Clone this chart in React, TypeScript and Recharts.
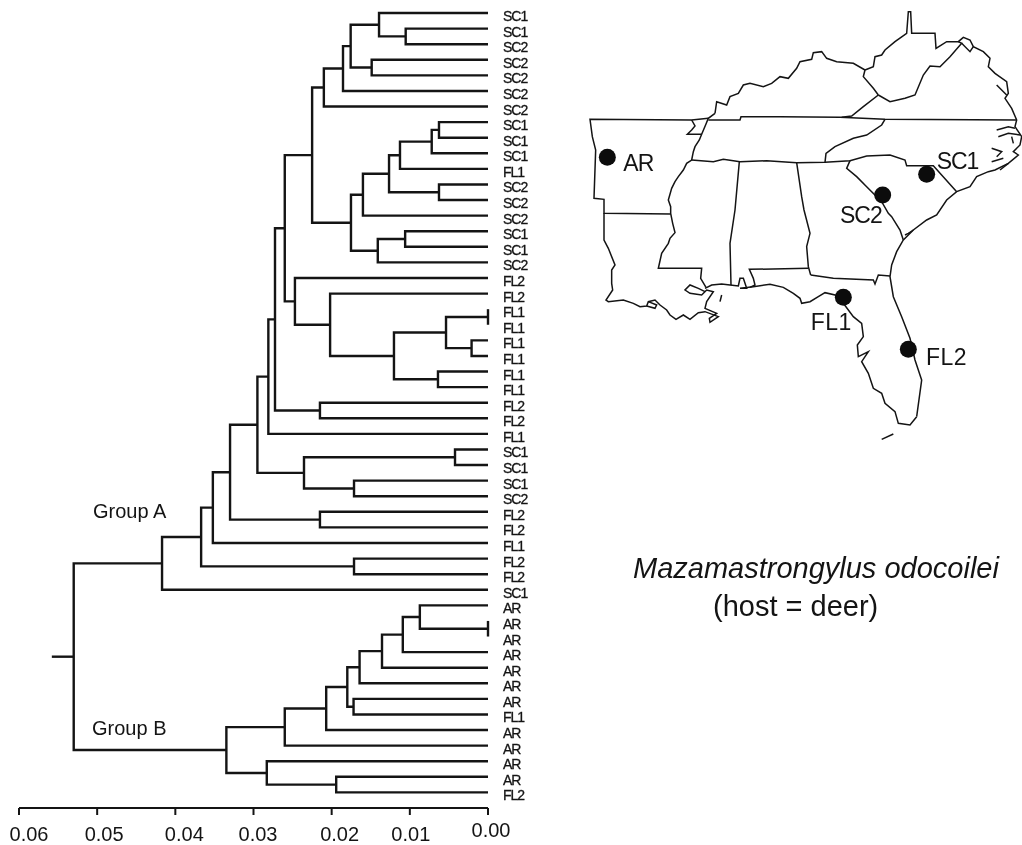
import React from 'react';
import { LineChart, Line, XAxis, YAxis } from 'recharts';

type Clade = string | [number, Clade, Clade];
type Pt = [number, number];

// distance values read from the tree, one clade at a time
const cladeSC: Clade = [0.0225,
  [0.021, [0.01855, [0.01757, [0.01394, 'SC1', [0.01053, 'SC1', 'SC2']], [0.01488, 'SC2', 'SC2']], 'SC2'], 'SC2'],
  [0.01753,
    [0.016, [0.01266, [0.01126, [0.0072, [0.00627, 'SC1', 'SC1'], 'SC1'], 'FL1'], [0.00627, 'SC2', 'SC2']], 'SC2'],
    [0.0141, [0.0106, 'SC1', 'SC1'], 'SC2']]];
const cladeFL: Clade = [0.0247, 'FL2', [0.0202, 'FL2',
  [0.01203, [0.00537, [0, 'FL1', 'FL1'], [0.0021, 'FL1', 'FL1']], [0.0064, 'FL1', 'FL1']]]];
const cladeMixed: Clade = [0.0295,
  [0.0281, [0.02725, [0.026, cladeSC, cladeFL], [0.0215, 'FL2', 'FL2']], 'FL1'],
  [0.02354, [0.00422, 'SC1', 'SC1'], [0.01714, 'SC1', 'SC2']]];
const groupA: Clade = [0.0417,
  [0.0367, [0.0352, [0.033, cladeMixed, [0.0215, 'FL2', 'FL2']], 'FL1'], [0.01714, 'FL2', 'FL2']],
  'SC1'];
const groupB: Clade = [0.03347,
  [0.026, [0.0207, [0.018, [0.01643, [0.01356, [0.0109, [0.00872, 'AR', [0, 'AR', 'AR']], 'AR'], 'AR'], 'AR'], [0.0172, 'AR', 'FL1']], 'AR'], 'AR'],
  [0.0283, 'AR', [0.01942, 'AR', 'FL2']]];
const rootDistance = 0.053;
const stemDistance = 0.0558;

const distanceTicks = [0, 0.01, 0.02, 0.03, 0.04, 0.05, 0.06];
const tickLabelShiftX = [3, 1, 8, 4.5, 9, 7, 10];
const tickLabelShiftY = [-4, 0, 0, 0, 0, 0, 0];

// map outlines, in units of a 1326 x 1350 sheet
const arkansas: Pt[] = [[385, 355], [335, 360], [30, 358], [37, 410], [47, 450], [42, 595], [72, 598], [72, 640], [272, 642]];
const bootheel: Pt[] = [[335, 360], [345, 378], [335, 390], [322, 403], [365, 403]];
const river: Pt[] = [[405, 340], [385, 355], [378, 372], [365, 403], [358, 420], [345, 440], [340, 455], [335, 480], [320, 490], [310, 510], [295, 530], [285, 545], [275, 565], [265, 600], [272, 620], [272, 640], [278, 670], [285, 698], [270, 715], [265, 730], [245, 760], [235, 805], [365, 805], [362, 835], [378, 862]];
const louisiana: Pt[] = [[72, 640], [72, 720], [85, 745], [105, 795], [95, 810], [95, 850], [98, 870], [78, 900], [85, 905], [130, 900], [160, 910], [180, 920], [200, 918], [205, 905], [225, 900], [240, 915], [260, 930], [270, 945], [288, 958], [310, 945], [330, 958], [355, 938], [375, 935], [415, 950], [390, 967], [388, 955], [410, 940], [375, 925], [380, 905], [400, 875], [380, 870], [365, 885], [330, 880], [315, 870], [330, 855], [355, 865], [375, 875]];
const calcasieu: Pt[] = [[205, 905], [230, 915], [225, 925], [200, 918]];
const gulfCoast: Pt[] = [[375, 865], [395, 855], [425, 852], [450, 855], [475, 858], [480, 835], [490, 835], [500, 865], [480, 865], [520, 860], [570, 853], [610, 862], [640, 880], [660, 895], [665, 910], [690, 905], [715, 890], [735, 878], [765, 885], [790, 910], [820, 950], [845, 970], [850, 1010], [832, 1035], [835, 1070], [865, 1055], [845, 1085], [865, 1120], [880, 1165], [905, 1180], [915, 1210], [945, 1235], [955, 1270], [990, 1275], [1010, 1250]];
const atlanticCoast: Pt[] = [[1010, 1250], [1025, 1140], [1005, 1080], [990, 1015], [965, 950], [940, 890], [930, 830], [935, 795], [950, 755], [970, 720], [1000, 690], [1040, 660], [1070, 645], [1100, 600], [1130, 575], [1170, 560], [1190, 530], [1225, 515], [1245, 510], [1285, 490], [1315, 465], [1300, 455], [1320, 435], [1325, 410], [1305, 380], [1310, 360], [1295, 325], [1275, 295], [1285, 280], [1280, 245], [1245, 220], [1225, 200], [1230, 175], [1210, 155], [1180, 140], [1170, 120], [1150, 112], [1135, 125], [1100, 125], [1068, 145], [1065, 100], [995, 100], [992, 35], [985, 35], [980, 100], [945, 125], [915, 150], [905, 165], [885, 170], [880, 200], [855, 210]];
const kentuckyNorth: Pt[] = [[855, 210], [820, 190], [770, 185], [740, 175], [725, 155], [700, 158], [695, 178], [660, 185], [650, 205], [625, 235], [600, 230], [575, 250], [550, 260], [510, 250], [490, 255], [475, 280], [450, 290], [440, 315], [410, 305], [405, 340]];
const tennesseeNorth: Pt[] = [[385, 360], [480, 360], [483, 350], [600, 350], [780, 352], [915, 358], [1310, 360]];
const kentuckyEast: Pt[] = [[785, 352], [815, 348], [850, 320], [895, 285]];
const westVirginiaWest: Pt[] = [[855, 210], [850, 230], [880, 265], [895, 285]];
const westVirginiaSouth: Pt[] = [[895, 285], [930, 305], [975, 295], [1005, 285], [1030, 225], [1050, 198], [1080, 200], [1110, 170], [1145, 130], [1135, 125]];
const maryland: Pt[] = [[1145, 130], [1170, 155], [1180, 140]];
const tennesseeSouth: Pt[] = [[335, 480], [400, 485], [430, 478], [480, 485], [560, 482], [650, 488], [735, 487], [810, 482], [860, 468], [930, 465], [975, 480], [980, 497], [1060, 497], [1130, 575]];
const tennesseeEast: Pt[] = [[735, 487], [738, 460], [765, 440], [820, 415], [860, 405], [905, 375], [915, 358]];
const mississippiEast: Pt[] = [[478, 485], [465, 630], [450, 730], [453, 855]];
const alabamaEast: Pt[] = [[650, 488], [665, 590], [672, 630], [690, 700], [680, 740], [685, 800], [692, 825]];
const alabamaSouth: Pt[] = [[510, 862], [525, 855], [520, 835], [508, 808], [685, 805]];
const georgiaSouth: Pt[] = [[692, 825], [760, 835], [880, 840], [885, 852], [895, 825], [930, 828]];
const georgiaEast: Pt[] = [[810, 482], [800, 505], [830, 530], [860, 560], [905, 605], [925, 640], [935, 650], [960, 690], [970, 720]];
const savannah: Pt[] = [[1000, 690], [985, 700], [975, 705]];
const albemarle: Pt[] = [[1250, 390], [1285, 380], [1305, 385]];
const pamlicoNorth: Pt[] = [[1255, 410], [1285, 400], [1320, 405]];
const pamlicoInlet: Pt[] = [[1300, 430], [1295, 410]];
const coreSound: Pt[] = [[1235, 445], [1265, 455], [1250, 470]];
const neuse: Pt[] = [[1235, 485], [1270, 475]];
const bogue: Pt[] = [[1260, 510], [1285, 490]];
const chesapeake: Pt[] = [[1250, 255], [1280, 285]];
const keys: Pt[] = [[905, 1318], [940, 1302]];
const chandeleur: Pt[] = [[425, 885], [420, 905]];

const mapLines = [arkansas, bootheel, river, louisiana, calcasieu, gulfCoast, atlanticCoast, kentuckyNorth, tennesseeNorth, kentuckyEast, westVirginiaWest, westVirginiaSouth, maryland, tennesseeSouth, tennesseeEast, mississippiEast, alabamaEast, alabamaSouth, georgiaSouth, georgiaEast, savannah, albemarle, pamlicoNorth, pamlicoInlet, coreSound, neuse, bogue, chesapeake, keys, chandeleur];

const sites = [
  { x: 82, y: 472 },
  { x: 1040, y: 523 },
  { x: 908, y: 585 },
  { x: 790, y: 892 },
  { x: 985, y: 1048 },
];
const siteNames = [
  { x: 130, y: 512, name: 'AR' },
  { x: 1070, y: 508, name: 'SC1' },
  { x: 780, y: 668, name: 'SC2' },
  { x: 692, y: 990, name: 'FL1' },
  { x: 1038, y: 1095, name: 'FL2' },
];

// walk the tree: leaves get the next row, a node sits halfway between its children
const leafLabels: string[] = [];
const brackets: { x: number; y: number }[][] = [];
const walk = (c: Clade): { x: number; y: number } => {
  if (typeof c === 'string') {
    leafLabels.push(c);
    return { x: 0, y: leafLabels.length - 1 };
  }
  const [h, a, b] = c;
  const top = walk(a);
  const bottom = walk(b);
  brackets.push([top, { x: h, y: top.y }, { x: h, y: bottom.y }, bottom]);
  return { x: h, y: (top.y + bottom.y) / 2 };
};
const rootTop = walk(groupA);
const rootBottom = walk(groupB);
const rootY = (rootTop.y + rootBottom.y) / 2;
brackets.push([rootTop, { x: rootDistance, y: rootTop.y }, { x: rootDistance, y: rootBottom.y }, rootBottom]);
brackets.push([{ x: rootDistance, y: rootY }, { x: stemDistance, y: rootY }]);
const leafRows = leafLabels.map((_, i) => i);

const FONT = '"Liberation Sans", Arial, sans-serif';
const INK = '#141414';

const LeafTick = ({ x, y, payload }: any) => (
  <text x={x + 7} y={y + 8} fontFamily={FONT} fontSize={14} letterSpacing={-1} fill={INK} stroke={INK} strokeWidth={0.3}>
    {leafLabels[payload.value]}
  </text>
);

const DistanceTick = ({ x, y, payload, index }: any) => (
  <text x={x + tickLabelShiftX[index]} y={y + 24 + tickLabelShiftY[index]} textAnchor="middle" fontFamily={FONT} fontSize={20} fill={INK}>
    {payload.value.toFixed(2)}
  </text>
);

const SiteName = ({ x, y, index }: any) => (
  <text x={x} y={y} fontFamily={FONT} fontSize={23} letterSpacing={siteNames[index].name[0] === 'F' ? 0.5 : -1} fill={INK}>
    {siteNames[index].name}
  </text>
);

const noteStyle: React.CSSProperties = { position: 'absolute', fontFamily: FONT, color: INK, whiteSpace: 'nowrap', lineHeight: 1 };

export default function App() {
  return (
    <div style={{ position: 'absolute', left: 0, top: 0, width: 1022, height: 845, background: '#fff', overflow: 'hidden', filter: 'blur(0.3px)' }}>
      <div style={{ position: 'absolute', left: 0, top: 0 }}>
        <LineChart width={1022} height={845} margin={{ top: 13, right: 484, bottom: 0, left: 19 }}>
          <XAxis
            type="number"
            dataKey="x"
            reversed
            domain={[0, 0.06]}
            ticks={distanceTicks}
            interval={0}
            height={37}
            tickSize={7}
            axisLine={{ stroke: INK, strokeWidth: 2.2 }}
            tickLine={{ stroke: INK, strokeWidth: 2 }}
            tick={<DistanceTick />}
          />
          <YAxis
            type="number"
            orientation="right"
            reversed
            domain={[0, 51]}
            ticks={leafRows}
            interval={0}
            width={50}
            axisLine={false}
            tickLine={false}
            tick={<LeafTick />}
          />
          {brackets.map((seg, i) => (
            <Line key={i} data={seg} dataKey="y" type="linear" stroke={INK} strokeWidth={2.4} strokeLinejoin="miter" dot={false} isAnimationActive={false} />
          ))}
        </LineChart>
      </div>
      <div style={{ position: 'absolute', left: 580, top: 0 }}>
        <LineChart width={442} height={450} margin={{ top: 0, right: 0, bottom: 0, left: 0 }}>
          <XAxis type="number" dataKey="x" domain={[0, 1326]} hide />
          <YAxis type="number" reversed domain={[0, 1350]} hide />
          {mapLines.map((pts, i) => (
            <Line
              key={i}
              data={pts.map(([x, y]) => ({ x, y }))}
              dataKey="y"
              type="linear"
              stroke={INK}
              strokeWidth={1.5}
              dot={false}
              isAnimationActive={false}
            />
          ))}
          <Line data={sites} dataKey="y" stroke="none" dot={{ r: 8.5, fill: '#0c0c0c', stroke: 'none' }} isAnimationActive={false} />
          <Line data={siteNames} dataKey="y" stroke="none" dot={false} label={<SiteName />} isAnimationActive={false} />
        </LineChart>
      </div>
      <div style={{ ...noteStyle, left: 93, top: 501, fontSize: 20 }}>Group A</div>
      <div style={{ ...noteStyle, left: 92, top: 718, fontSize: 20 }}>Group B</div>
      <div style={{ ...noteStyle, left: 633, top: 553.5, fontSize: 29, fontStyle: 'italic' }}>Mazamastrongylus odocoilei</div>
      <div style={{ ...noteStyle, left: 713, top: 591.5, fontSize: 29 }}>(host = deer)</div>
    </div>
  );
}
